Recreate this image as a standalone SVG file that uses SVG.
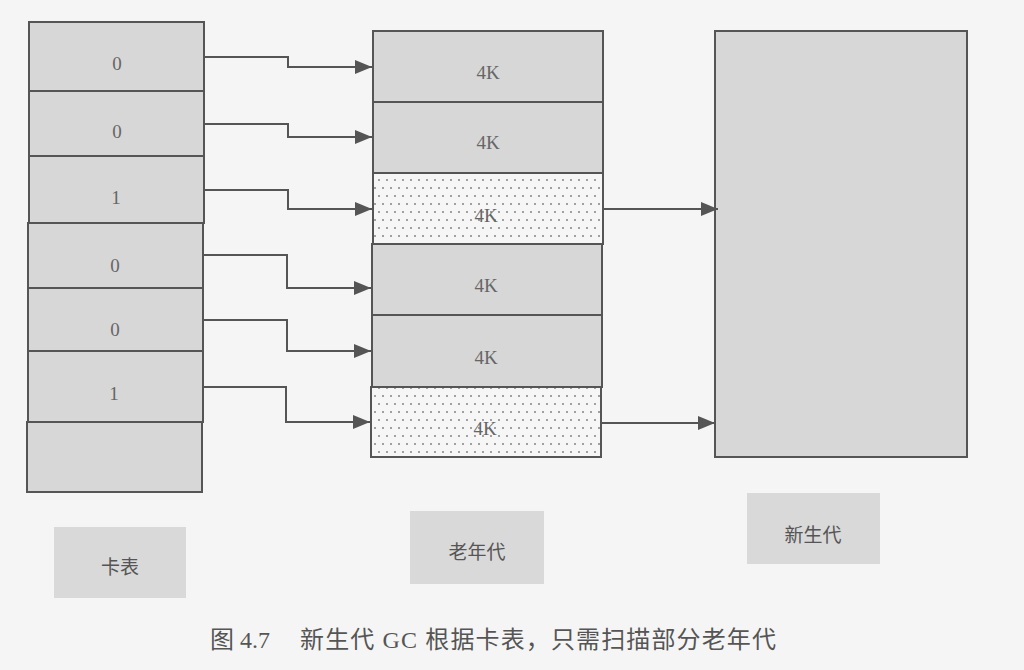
<svg xmlns="http://www.w3.org/2000/svg" width="1024" height="670" viewBox="0 0 1024 670">
<defs>
<style>
.cell{fill:#d7d7d7;stroke:#555;stroke-width:2}
.dot{fill:url(#dots);stroke:#555;stroke-width:2}
.num{font-family:"Liberation Serif",serif;font-size:19px;fill:#666;text-anchor:middle;dominant-baseline:central}
.lbl{font-family:"Noto Sans CJK SC",sans-serif;font-size:19px;fill:#555;text-anchor:middle;dominant-baseline:central}
.cap{font-family:"Liberation Serif","Noto Sans CJK SC",serif;font-size:24px;fill:#555}
.tag{fill:#d9d9d9}
.conn path{fill:none;stroke:#555;stroke-width:2;marker-end:url(#arr)}
</style>
<pattern id="dots" width="16" height="16" patternUnits="userSpaceOnUse">
<rect width="16" height="16" fill="#f6f6f6"/>
<circle cx="3" cy="4" r="0.9" fill="#777"/>
<circle cx="11" cy="4" r="0.9" fill="#777"/>
<circle cx="7" cy="12" r="0.9" fill="#777"/>
<circle cx="15" cy="12" r="0.9" fill="#777"/>
</pattern>
<marker id="arr" markerWidth="17" markerHeight="14" refX="17" refY="7" orient="auto" markerUnits="userSpaceOnUse">
<path d="M0,0 L17,7 L0,14 Z" fill="#555"/>
</marker>
</defs>
<rect width="1024" height="670" fill="#f5f5f5"/>

<g id="card-table">
<rect class="cell" x="29" y="22" width="175" height="69"/>
<rect class="cell" x="29" y="91" width="175" height="65"/>
<rect class="cell" x="29" y="156" width="175" height="67"/>
<rect class="cell" x="28" y="223" width="175" height="65"/>
<rect class="cell" x="28" y="288" width="175" height="63"/>
<rect class="cell" x="28" y="351" width="175" height="71"/>
<rect class="cell" x="27" y="422" width="175" height="70"/>
<text class="num" x="117" y="63">0</text>
<text class="num" x="117" y="131">0</text>
<text class="num" x="116" y="197">1</text>
<text class="num" x="115" y="265">0</text>
<text class="num" x="115" y="329">0</text>
<text class="num" x="114" y="393">1</text>
</g>

<g id="old-gen">
<rect class="cell" x="373" y="31" width="230" height="71"/>
<rect class="cell" x="373" y="102" width="230" height="71"/>
<rect class="dot" x="373" y="173" width="230" height="71"/>
<rect class="cell" x="372" y="244" width="230" height="71"/>
<rect class="cell" x="372" y="315" width="230" height="72"/>
<rect class="dot" x="371" y="387" width="230" height="70"/>
<text class="num" x="488" y="72">4K</text>
<text class="num" x="488" y="142">4K</text>
<text class="num" x="486" y="215">4K</text>
<text class="num" x="486" y="285">4K</text>
<text class="num" x="486" y="357">4K</text>
<text class="num" x="485" y="428">4K</text>
</g>

<g id="young-gen">
<rect class="cell" x="715" y="31" width="252" height="426"/>
</g>

<g id="labels">
<g id="label-card"><rect class="tag" x="54" y="527" width="132" height="71"/><text class="lbl" x="120" y="565">卡表</text></g>
<g id="label-old"><rect class="tag" x="410" y="511" width="134" height="73"/><text class="lbl" x="477" y="550">老年代</text></g>
<g id="label-young"><rect class="tag" x="747" y="493" width="133" height="71"/><text class="lbl" x="813" y="533">新生代</text></g>
</g>

<g class="conn" id="connectors">
<path d="M204,57 H288 V67 H372"/>
<path d="M204,124 H288 V137 H372"/>
<path d="M204,190 H288 V209 H372"/>
<path d="M203,255 H287 V288 H371"/>
<path d="M203,320 H287 V351 H371"/>
<path d="M203,387 H286 V422 H370"/>
<path d="M603,209 H718"/>
<path d="M601,423 H715"/>
</g>

<g id="caption">
<text class="cap" x="210" y="648">图 4.7</text>
<text class="cap" x="300" y="648" textLength="476" lengthAdjust="spacing">新生代 GC 根据卡表，只需扫描部分老年代</text>
</g>
</svg>
